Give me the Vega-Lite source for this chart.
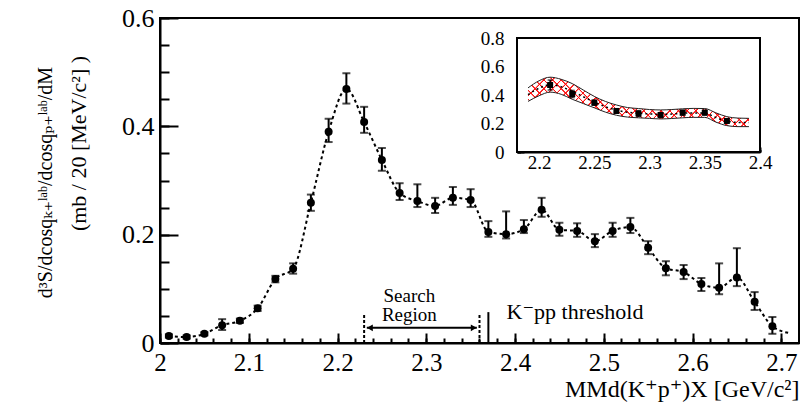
{
  "$schema": "https://vega.github.io/schema/vega-lite/v6.json",
  "width": 639,
  "height": 325,
  "autosize": {"type": "none"},
  "padding": {"left": 160, "top": 18, "right": 4, "bottom": 61},
  "background": "white",
  "config": {
    "view": {"stroke": "black", "strokeWidth": 2},
    "font": "Liberation Serif, Times New Roman, DejaVu Serif, serif",
    "axis": {
      "domainColor": "black", "domainWidth": 2, "tickColor": "black", "tickWidth": 2,
      "labelFont": "Liberation Serif, Times New Roman, DejaVu Serif, serif", "labelColor": "black",
      "titleFont": "Liberation Serif, Times New Roman, DejaVu Serif, serif",
      "titleColor": "black", "titleFontWeight": "normal", "grid": false, "labelFlush": false,
      "labelOverlap": false, "zindex": 1
    },
    "text": {"font": "Liberation Serif, Times New Roman, DejaVu Serif, serif", "color": "black"}
  },
  "datasets": {
    "pts": [
      {"m": 2.01, "v": 0.013, "lo": 0.010, "hi": 0.016},
      {"m": 2.03, "v": 0.011, "lo": 0.008, "hi": 0.014},
      {"m": 2.05, "v": 0.017, "lo": 0.014, "hi": 0.020},
      {"m": 2.07, "v": 0.033, "lo": 0.024, "hi": 0.044},
      {"m": 2.09, "v": 0.041, "lo": 0.037, "hi": 0.045},
      {"m": 2.11, "v": 0.064, "lo": 0.059, "hi": 0.069},
      {"m": 2.13, "v": 0.118, "lo": 0.112, "hi": 0.124},
      {"m": 2.15, "v": 0.137, "lo": 0.128, "hi": 0.147},
      {"m": 2.17, "v": 0.259, "lo": 0.244, "hi": 0.274},
      {"m": 2.19, "v": 0.390, "lo": 0.371, "hi": 0.414},
      {"m": 2.21, "v": 0.469, "lo": 0.442, "hi": 0.498},
      {"m": 2.23, "v": 0.408, "lo": 0.388, "hi": 0.436},
      {"m": 2.25, "v": 0.338, "lo": 0.318, "hi": 0.360},
      {"m": 2.27, "v": 0.277, "lo": 0.264, "hi": 0.295},
      {"m": 2.29, "v": 0.262, "lo": 0.251, "hi": 0.293},
      {"m": 2.31, "v": 0.253, "lo": 0.240, "hi": 0.268},
      {"m": 2.33, "v": 0.268, "lo": 0.255, "hi": 0.288},
      {"m": 2.35, "v": 0.264, "lo": 0.251, "hi": 0.284},
      {"m": 2.37, "v": 0.205, "lo": 0.196, "hi": 0.225},
      {"m": 2.39, "v": 0.201, "lo": 0.193, "hi": 0.243},
      {"m": 2.41, "v": 0.210, "lo": 0.203, "hi": 0.227},
      {"m": 2.43, "v": 0.246, "lo": 0.233, "hi": 0.268},
      {"m": 2.45, "v": 0.209, "lo": 0.198, "hi": 0.222},
      {"m": 2.47, "v": 0.207, "lo": 0.196, "hi": 0.221},
      {"m": 2.49, "v": 0.188, "lo": 0.177, "hi": 0.201},
      {"m": 2.51, "v": 0.207, "lo": 0.196, "hi": 0.222},
      {"m": 2.53, "v": 0.214, "lo": 0.203, "hi": 0.231},
      {"m": 2.55, "v": 0.176, "lo": 0.164, "hi": 0.188},
      {"m": 2.57, "v": 0.138, "lo": 0.125, "hi": 0.151},
      {"m": 2.59, "v": 0.131, "lo": 0.118, "hi": 0.144},
      {"m": 2.61, "v": 0.109, "lo": 0.096, "hi": 0.120},
      {"m": 2.63, "v": 0.102, "lo": 0.090, "hi": 0.147},
      {"m": 2.65, "v": 0.121, "lo": 0.105, "hi": 0.175},
      {"m": 2.67, "v": 0.076, "lo": 0.061, "hi": 0.094},
      {"m": 2.69, "v": 0.031, "lo": 0.017, "hi": 0.048}
    ],
    "curve": [
      {"m": 2.01, "v": 0.013}, {"m": 2.03, "v": 0.011}, {"m": 2.05, "v": 0.017},
      {"m": 2.07, "v": 0.033}, {"m": 2.09, "v": 0.041}, {"m": 2.11, "v": 0.064},
      {"m": 2.13, "v": 0.118}, {"m": 2.15, "v": 0.137}, {"m": 2.17, "v": 0.259},
      {"m": 2.19, "v": 0.390}, {"m": 2.21, "v": 0.469}, {"m": 2.23, "v": 0.408},
      {"m": 2.25, "v": 0.338}, {"m": 2.27, "v": 0.277}, {"m": 2.29, "v": 0.262},
      {"m": 2.31, "v": 0.253}, {"m": 2.33, "v": 0.268}, {"m": 2.35, "v": 0.264},
      {"m": 2.37, "v": 0.205}, {"m": 2.39, "v": 0.201}, {"m": 2.41, "v": 0.210},
      {"m": 2.43, "v": 0.246}, {"m": 2.45, "v": 0.209}, {"m": 2.47, "v": 0.207},
      {"m": 2.49, "v": 0.188}, {"m": 2.51, "v": 0.207}, {"m": 2.53, "v": 0.214},
      {"m": 2.55, "v": 0.176}, {"m": 2.57, "v": 0.138}, {"m": 2.59, "v": 0.131},
      {"m": 2.61, "v": 0.109}, {"m": 2.63, "v": 0.102}, {"m": 2.65, "v": 0.121},
      {"m": 2.67, "v": 0.076}, {"m": 2.69, "v": 0.031}, {"m": 2.71, "v": 0.018}
    ],
    "dashrules": [{"m": 2.23, "v": 0, "v2": 0.052}, {"m": 2.36, "v": 0, "v2": 0.052}],
    "threshold": [{"m": 2.37, "v": 0, "v2": 0.057}],
    "arrow": [{"m": 2.233, "m2": 2.357, "v": 0.028}],
    "heads": [{"m": 2.2365, "v": 0.028, "dir": "left"}, {"m": 2.3535, "v": 0.028, "dir": "right"}],
    "searchtext": [{"m": 2.281, "v": 0.087, "label": "Search"}, {"m": 2.281, "v": 0.052, "label": "Region"}],
    "thrtext": [{"m": 2.3905, "v": 0.058, "label": "K⁻pp threshold"}],
    "iframe": [{"m": 2.18, "m2": 2.40, "v": 0, "v2": 0.8}],
    "band": [
      {"m": 2.19, "lo": 0.355, "hi": 0.450, "c": 0.402},
      {"m": 2.20, "lo": 0.395, "hi": 0.500, "c": 0.448},
      {"m": 2.21, "lo": 0.420, "hi": 0.525, "c": 0.472},
      {"m": 2.22, "lo": 0.405, "hi": 0.510, "c": 0.458},
      {"m": 2.23, "lo": 0.370, "hi": 0.480, "c": 0.425},
      {"m": 2.24, "lo": 0.340, "hi": 0.435, "c": 0.388},
      {"m": 2.25, "lo": 0.310, "hi": 0.390, "c": 0.350},
      {"m": 2.26, "lo": 0.280, "hi": 0.355, "c": 0.318},
      {"m": 2.27, "lo": 0.258, "hi": 0.330, "c": 0.294},
      {"m": 2.28, "lo": 0.245, "hi": 0.312, "c": 0.279},
      {"m": 2.29, "lo": 0.240, "hi": 0.305, "c": 0.272},
      {"m": 2.30, "lo": 0.236, "hi": 0.298, "c": 0.267},
      {"m": 2.31, "lo": 0.232, "hi": 0.295, "c": 0.264},
      {"m": 2.32, "lo": 0.235, "hi": 0.298, "c": 0.266},
      {"m": 2.33, "lo": 0.240, "hi": 0.303, "c": 0.272},
      {"m": 2.34, "lo": 0.243, "hi": 0.306, "c": 0.274},
      {"m": 2.35, "lo": 0.243, "hi": 0.305, "c": 0.274},
      {"m": 2.36, "lo": 0.210, "hi": 0.275, "c": 0.242},
      {"m": 2.37, "lo": 0.185, "hi": 0.248, "c": 0.216},
      {"m": 2.38, "lo": 0.178, "hi": 0.238, "c": 0.208},
      {"m": 2.39, "lo": 0.178, "hi": 0.236, "c": 0.207}
    ],
    "ipts": [
      {"m": 2.21, "v": 0.470, "lo": 0.435, "hi": 0.505},
      {"m": 2.23, "v": 0.407, "lo": 0.382, "hi": 0.432},
      {"m": 2.25, "v": 0.346, "lo": 0.328, "hi": 0.364},
      {"m": 2.27, "v": 0.288, "lo": 0.273, "hi": 0.303},
      {"m": 2.29, "v": 0.270, "lo": 0.250, "hi": 0.290},
      {"m": 2.31, "v": 0.260, "lo": 0.245, "hi": 0.275},
      {"m": 2.33, "v": 0.276, "lo": 0.259, "hi": 0.293},
      {"m": 2.35, "v": 0.276, "lo": 0.259, "hi": 0.293},
      {"m": 2.37, "v": 0.218, "lo": 0.203, "hi": 0.233}
    ]
  },
  "resolve": {"scale": {"x": "independent", "y": "independent"}},
  "layer": [
    {
      "resolve": {"axis": {"x": "independent", "y": "independent"}},
      "layer": [
        {
          "data": {"name": "curve"},
          "mark": {"type": "line", "color": "black", "strokeWidth": 2, "strokeDash": [3, 3], "interpolate": "monotone"},
          "encoding": {
            "x": {"field": "m", "type": "quantitative", "scale": {"domain": [2.0, 2.72], "nice": false, "zero": false},
              "axis": {"orient": "bottom", "values": [2, 2.02, 2.04, 2.06, 2.08, 2.1, 2.12, 2.14, 2.16, 2.18, 2.2, 2.22, 2.24, 2.26, 2.28, 2.3, 2.32, 2.34, 2.36, 2.38, 2.4, 2.42, 2.44, 2.46, 2.48, 2.5, 2.52, 2.54, 2.56, 2.58, 2.6, 2.62, 2.64, 2.66, 2.68, 2.7],
                "tickSize": -5, "labels": false, "domain": false, "title": null}},
            "y": {"field": "v", "type": "quantitative", "scale": {"domain": [0, 0.6], "nice": false, "zero": false},
              "axis": {"orient": "left", "values": [0, 0.05, 0.1, 0.15, 0.2, 0.25, 0.3, 0.35, 0.4, 0.45, 0.5, 0.55, 0.6],
                "tickSize": -9, "labels": false, "domain": false,
                "title": "(mb / 20 [MeV/c²] )", "titleFontSize": 22, "titleAngle": 270, "titleX": -82, "titleY": 125,
                "titleAlign": "center", "titleBaseline": "middle"}}
          }
        },
        {
          "data": {"name": "pts"},
          "mark": {"type": "errorbar", "color": "black", "thickness": 2, "size": 8, "ticks": true},
          "encoding": {
            "x": {"field": "m", "type": "quantitative", "scale": {"domain": [2.0, 2.72], "nice": false, "zero": false}, "axis": null},
            "y": {"field": "lo", "type": "quantitative", "scale": {"domain": [0, 0.6], "nice": false, "zero": false}, "axis": null},
            "y2": {"field": "hi"}
          }
        },
        {
          "data": {"name": "pts"},
          "mark": {"type": "point", "shape": "circle", "filled": true, "color": "black", "opacity": 1, "size": 64},
          "encoding": {
            "x": {"field": "m", "type": "quantitative", "scale": {"domain": [2.0, 2.72], "nice": false, "zero": false},
              "axis": {"orient": "bottom", "values": [2, 2.1, 2.2, 2.3, 2.4, 2.5, 2.6, 2.7], "format": "~g",
                "tickSize": -10, "labelPadding": 17, "labelFontSize": 25, "labelFont": "Liberation Serif",
                "title": "MMd(K⁺p⁺)X [GeV/c²]", "titleFontSize": 24, "titleAlign": "right", "titleX": 639, "titleY": 46, "titleBaseline": "middle"}},
            "y": {"field": "v", "type": "quantitative", "scale": {"domain": [0, 0.6], "nice": false, "zero": false},
              "axis": {"orient": "left", "values": [0, 0.2, 0.4, 0.6], "format": "~g",
                "tickSize": -18, "labelPadding": 24, "labelFontSize": 26, "labelFont": "Liberation Serif",
                "title": "d³S/dcosqₖ₊ˡᵃᵇ/dcosqₚ₊ˡᵃᵇ/dM", "titleFontSize": 20, "titleAngle": 270, "titleX": -115, "titleY": 164,
                "titleAlign": "center", "titleBaseline": "middle"}}
          }
        },
        {
          "data": {"name": "dashrules"},
          "mark": {"type": "rule", "color": "black", "strokeWidth": 2, "strokeDash": [3, 2]},
          "encoding": {
            "x": {"field": "m", "type": "quantitative", "scale": {"domain": [2.0, 2.72], "nice": false, "zero": false}, "axis": null},
            "y": {"field": "v", "type": "quantitative", "scale": {"domain": [0, 0.6], "nice": false, "zero": false}, "axis": null},
            "y2": {"field": "v2"}
          }
        },
        {
          "data": {"name": "threshold"},
          "mark": {"type": "rule", "color": "black", "strokeWidth": 2},
          "encoding": {
            "x": {"field": "m", "type": "quantitative", "scale": {"domain": [2.0, 2.72], "nice": false, "zero": false}, "axis": null},
            "y": {"field": "v", "type": "quantitative", "scale": {"domain": [0, 0.6], "nice": false, "zero": false}, "axis": null},
            "y2": {"field": "v2"}
          }
        },
        {
          "data": {"name": "arrow"},
          "mark": {"type": "rule", "color": "black", "strokeWidth": 2},
          "encoding": {
            "x": {"field": "m", "type": "quantitative", "scale": {"domain": [2.0, 2.72], "nice": false, "zero": false}, "axis": null},
            "x2": {"field": "m2"},
            "y": {"field": "v", "type": "quantitative", "scale": {"domain": [0, 0.6], "nice": false, "zero": false}, "axis": null}
          }
        },
        {
          "data": {"name": "heads"},
          "mark": {"type": "point", "filled": true, "color": "black", "opacity": 1, "size": 45},
          "encoding": {
            "x": {"field": "m", "type": "quantitative", "scale": {"domain": [2.0, 2.72], "nice": false, "zero": false}, "axis": null},
            "y": {"field": "v", "type": "quantitative", "scale": {"domain": [0, 0.6], "nice": false, "zero": false}, "axis": null},
            "shape": {"field": "dir", "type": "nominal", "scale": {"domain": ["left", "right"], "range": ["triangle-left", "triangle-right"]}, "legend": null}
          }
        },
        {
          "data": {"name": "searchtext"},
          "mark": {"type": "text", "fontSize": 19, "align": "center", "baseline": "middle", "color": "black"},
          "encoding": {
            "x": {"field": "m", "type": "quantitative", "scale": {"domain": [2.0, 2.72], "nice": false, "zero": false}, "axis": null},
            "y": {"field": "v", "type": "quantitative", "scale": {"domain": [0, 0.6], "nice": false, "zero": false}, "axis": null},
            "text": {"field": "label"}
          }
        },
        {
          "data": {"name": "thrtext"},
          "mark": {"type": "text", "fontSize": 22, "align": "left", "baseline": "middle", "color": "black"},
          "encoding": {
            "x": {"field": "m", "type": "quantitative", "scale": {"domain": [2.0, 2.72], "nice": false, "zero": false}, "axis": null},
            "y": {"field": "v", "type": "quantitative", "scale": {"domain": [0, 0.6], "nice": false, "zero": false}, "axis": null},
            "text": {"field": "label"}
          }
        }
      ]
    },
    {
      "resolve": {"axis": {"x": "independent", "y": "independent"}},
      "layer": [
        {
          "data": {"name": "iframe"},
          "mark": {"type": "rect", "fill": "white", "stroke": "black", "strokeWidth": 2},
          "encoding": {
            "x": {"field": "m", "type": "quantitative", "scale": {"domain": [2.18, 2.40], "range": [357, 600], "nice": false, "zero": false},
              "axis": {"orient": "bottom", "offset": -191, "values": [2.2, 2.25, 2.3, 2.35, 2.4], "format": "~g",
                "tickSize": -5, "labelPadding": 6, "labelFontSize": 19, "labelFont": "Liberation Serif", "title": null}},
            "x2": {"field": "m2"},
            "y": {"field": "v", "type": "quantitative", "scale": {"domain": [0, 0.8], "range": [134, 20], "nice": false, "zero": false},
              "axis": {"orient": "left", "offset": -357, "values": [0, 0.2, 0.4, 0.6, 0.8], "format": "~g",
                "tickSize": -7, "labelPadding": 20, "labelFontSize": 19, "labelFont": "Liberation Serif", "title": null}},
            "y2": {"field": "v2"}
          }
        },
        {
          "data": {"name": "band"},
          "mark": {"type": "area", "opacity": 1, "interpolate": "monotone",
            "fill": {"gradient": "linear", "x1": 0, "y1": 0, "x2": 1.25, "y2": 0.275, "stops": [
              {"offset": 0.000, "color": "rgba(255,0,0,0)"}, {"offset": 0.002, "color": "#ff1010"}, {"offset": 0.005, "color": "#ff1010"}, {"offset": 0.007, "color": "rgba(255,0,0,0)"},
              {"offset": 0.030, "color": "rgba(255,0,0,0)"}, {"offset": 0.032, "color": "#ff1010"}, {"offset": 0.035, "color": "#ff1010"}, {"offset": 0.037, "color": "rgba(255,0,0,0)"},
              {"offset": 0.060, "color": "rgba(255,0,0,0)"}, {"offset": 0.062, "color": "#ff1010"}, {"offset": 0.065, "color": "#ff1010"}, {"offset": 0.067, "color": "rgba(255,0,0,0)"},
              {"offset": 0.090, "color": "rgba(255,0,0,0)"}, {"offset": 0.092, "color": "#ff1010"}, {"offset": 0.095, "color": "#ff1010"}, {"offset": 0.097, "color": "rgba(255,0,0,0)"},
              {"offset": 0.120, "color": "rgba(255,0,0,0)"}, {"offset": 0.122, "color": "#ff1010"}, {"offset": 0.125, "color": "#ff1010"}, {"offset": 0.127, "color": "rgba(255,0,0,0)"},
              {"offset": 0.150, "color": "rgba(255,0,0,0)"}, {"offset": 0.152, "color": "#ff1010"}, {"offset": 0.155, "color": "#ff1010"}, {"offset": 0.157, "color": "rgba(255,0,0,0)"},
              {"offset": 0.180, "color": "rgba(255,0,0,0)"}, {"offset": 0.182, "color": "#ff1010"}, {"offset": 0.185, "color": "#ff1010"}, {"offset": 0.187, "color": "rgba(255,0,0,0)"},
              {"offset": 0.210, "color": "rgba(255,0,0,0)"}, {"offset": 0.212, "color": "#ff1010"}, {"offset": 0.215, "color": "#ff1010"}, {"offset": 0.217, "color": "rgba(255,0,0,0)"},
              {"offset": 0.240, "color": "rgba(255,0,0,0)"}, {"offset": 0.242, "color": "#ff1010"}, {"offset": 0.245, "color": "#ff1010"}, {"offset": 0.247, "color": "rgba(255,0,0,0)"},
              {"offset": 0.270, "color": "rgba(255,0,0,0)"}, {"offset": 0.272, "color": "#ff1010"}, {"offset": 0.275, "color": "#ff1010"}, {"offset": 0.277, "color": "rgba(255,0,0,0)"},
              {"offset": 0.300, "color": "rgba(255,0,0,0)"}, {"offset": 0.302, "color": "#ff1010"}, {"offset": 0.305, "color": "#ff1010"}, {"offset": 0.307, "color": "rgba(255,0,0,0)"},
              {"offset": 0.330, "color": "rgba(255,0,0,0)"}, {"offset": 0.332, "color": "#ff1010"}, {"offset": 0.335, "color": "#ff1010"}, {"offset": 0.337, "color": "rgba(255,0,0,0)"},
              {"offset": 0.360, "color": "rgba(255,0,0,0)"}, {"offset": 0.362, "color": "#ff1010"}, {"offset": 0.365, "color": "#ff1010"}, {"offset": 0.367, "color": "rgba(255,0,0,0)"},
              {"offset": 0.390, "color": "rgba(255,0,0,0)"}, {"offset": 0.392, "color": "#ff1010"}, {"offset": 0.395, "color": "#ff1010"}, {"offset": 0.397, "color": "rgba(255,0,0,0)"},
              {"offset": 0.420, "color": "rgba(255,0,0,0)"}, {"offset": 0.422, "color": "#ff1010"}, {"offset": 0.425, "color": "#ff1010"}, {"offset": 0.427, "color": "rgba(255,0,0,0)"},
              {"offset": 0.450, "color": "rgba(255,0,0,0)"}, {"offset": 0.452, "color": "#ff1010"}, {"offset": 0.455, "color": "#ff1010"}, {"offset": 0.457, "color": "rgba(255,0,0,0)"},
              {"offset": 0.480, "color": "rgba(255,0,0,0)"}, {"offset": 0.482, "color": "#ff1010"}, {"offset": 0.485, "color": "#ff1010"}, {"offset": 0.487, "color": "rgba(255,0,0,0)"},
              {"offset": 0.510, "color": "rgba(255,0,0,0)"}, {"offset": 0.512, "color": "#ff1010"}, {"offset": 0.515, "color": "#ff1010"}, {"offset": 0.517, "color": "rgba(255,0,0,0)"},
              {"offset": 0.540, "color": "rgba(255,0,0,0)"}, {"offset": 0.542, "color": "#ff1010"}, {"offset": 0.545, "color": "#ff1010"}, {"offset": 0.547, "color": "rgba(255,0,0,0)"},
              {"offset": 0.570, "color": "rgba(255,0,0,0)"}, {"offset": 0.572, "color": "#ff1010"}, {"offset": 0.575, "color": "#ff1010"}, {"offset": 0.577, "color": "rgba(255,0,0,0)"},
              {"offset": 0.600, "color": "rgba(255,0,0,0)"}, {"offset": 0.602, "color": "#ff1010"}, {"offset": 0.605, "color": "#ff1010"}, {"offset": 0.607, "color": "rgba(255,0,0,0)"},
              {"offset": 0.630, "color": "rgba(255,0,0,0)"}, {"offset": 0.632, "color": "#ff1010"}, {"offset": 0.635, "color": "#ff1010"}, {"offset": 0.637, "color": "rgba(255,0,0,0)"},
              {"offset": 0.660, "color": "rgba(255,0,0,0)"}, {"offset": 0.662, "color": "#ff1010"}, {"offset": 0.665, "color": "#ff1010"}, {"offset": 0.667, "color": "rgba(255,0,0,0)"},
              {"offset": 0.690, "color": "rgba(255,0,0,0)"}, {"offset": 0.692, "color": "#ff1010"}, {"offset": 0.695, "color": "#ff1010"}, {"offset": 0.697, "color": "rgba(255,0,0,0)"},
              {"offset": 0.720, "color": "rgba(255,0,0,0)"}, {"offset": 0.722, "color": "#ff1010"}, {"offset": 0.725, "color": "#ff1010"}, {"offset": 0.727, "color": "rgba(255,0,0,0)"},
              {"offset": 0.750, "color": "rgba(255,0,0,0)"}, {"offset": 0.752, "color": "#ff1010"}, {"offset": 0.755, "color": "#ff1010"}, {"offset": 0.757, "color": "rgba(255,0,0,0)"},
              {"offset": 0.780, "color": "rgba(255,0,0,0)"}, {"offset": 0.782, "color": "#ff1010"}, {"offset": 0.785, "color": "#ff1010"}, {"offset": 0.787, "color": "rgba(255,0,0,0)"},
              {"offset": 0.810, "color": "rgba(255,0,0,0)"}, {"offset": 0.812, "color": "#ff1010"}, {"offset": 0.815, "color": "#ff1010"}, {"offset": 0.817, "color": "rgba(255,0,0,0)"},
              {"offset": 0.840, "color": "rgba(255,0,0,0)"}, {"offset": 0.842, "color": "#ff1010"}, {"offset": 0.845, "color": "#ff1010"}, {"offset": 0.847, "color": "rgba(255,0,0,0)"},
              {"offset": 0.870, "color": "rgba(255,0,0,0)"}, {"offset": 0.872, "color": "#ff1010"}, {"offset": 0.875, "color": "#ff1010"}, {"offset": 0.877, "color": "rgba(255,0,0,0)"},
              {"offset": 0.900, "color": "rgba(255,0,0,0)"}, {"offset": 0.902, "color": "#ff1010"}, {"offset": 0.905, "color": "#ff1010"}, {"offset": 0.907, "color": "rgba(255,0,0,0)"},
              {"offset": 1.000, "color": "rgba(255,0,0,0)"}
            ]}},
          "encoding": {
            "x": {"field": "m", "type": "quantitative", "scale": {"domain": [2.18, 2.40], "range": [357, 600], "nice": false, "zero": false},
              "axis": {"orient": "bottom", "offset": -191, "values": [2.18, 2.19, 2.2, 2.21, 2.22, 2.23, 2.24, 2.25, 2.26, 2.27, 2.28, 2.29, 2.3, 2.31, 2.32, 2.33, 2.34, 2.35, 2.36, 2.37, 2.38, 2.39, 2.4],
                "tickSize": -2.5, "labels": false, "domain": false, "title": null}},
            "y": {"field": "lo", "type": "quantitative", "scale": {"domain": [0, 0.8], "range": [134, 20], "nice": false, "zero": false},
              "axis": {"orient": "left", "offset": -357, "values": [0, 0.04, 0.08, 0.12, 0.16, 0.2, 0.24, 0.28, 0.32, 0.36, 0.4, 0.44, 0.48, 0.52, 0.56, 0.6, 0.64, 0.68, 0.72, 0.76, 0.8],
                "tickSize": -3.5, "labels": false, "domain": false, "title": null}},
            "y2": {"field": "hi"}
          }
        },
        {
          "data": {"name": "band"},
          "mark": {"type": "area", "opacity": 1, "interpolate": "monotone",
            "fill": {"gradient": "linear", "x1": 0, "y1": 1, "x2": 1.25, "y2": 0.725, "stops": [
              {"offset": 0.000, "color": "rgba(255,0,0,0)"}, {"offset": 0.002, "color": "#ff1010"}, {"offset": 0.005, "color": "#ff1010"}, {"offset": 0.007, "color": "rgba(255,0,0,0)"},
              {"offset": 0.030, "color": "rgba(255,0,0,0)"}, {"offset": 0.032, "color": "#ff1010"}, {"offset": 0.035, "color": "#ff1010"}, {"offset": 0.037, "color": "rgba(255,0,0,0)"},
              {"offset": 0.060, "color": "rgba(255,0,0,0)"}, {"offset": 0.062, "color": "#ff1010"}, {"offset": 0.065, "color": "#ff1010"}, {"offset": 0.067, "color": "rgba(255,0,0,0)"},
              {"offset": 0.090, "color": "rgba(255,0,0,0)"}, {"offset": 0.092, "color": "#ff1010"}, {"offset": 0.095, "color": "#ff1010"}, {"offset": 0.097, "color": "rgba(255,0,0,0)"},
              {"offset": 0.120, "color": "rgba(255,0,0,0)"}, {"offset": 0.122, "color": "#ff1010"}, {"offset": 0.125, "color": "#ff1010"}, {"offset": 0.127, "color": "rgba(255,0,0,0)"},
              {"offset": 0.150, "color": "rgba(255,0,0,0)"}, {"offset": 0.152, "color": "#ff1010"}, {"offset": 0.155, "color": "#ff1010"}, {"offset": 0.157, "color": "rgba(255,0,0,0)"},
              {"offset": 0.180, "color": "rgba(255,0,0,0)"}, {"offset": 0.182, "color": "#ff1010"}, {"offset": 0.185, "color": "#ff1010"}, {"offset": 0.187, "color": "rgba(255,0,0,0)"},
              {"offset": 0.210, "color": "rgba(255,0,0,0)"}, {"offset": 0.212, "color": "#ff1010"}, {"offset": 0.215, "color": "#ff1010"}, {"offset": 0.217, "color": "rgba(255,0,0,0)"},
              {"offset": 0.240, "color": "rgba(255,0,0,0)"}, {"offset": 0.242, "color": "#ff1010"}, {"offset": 0.245, "color": "#ff1010"}, {"offset": 0.247, "color": "rgba(255,0,0,0)"},
              {"offset": 0.270, "color": "rgba(255,0,0,0)"}, {"offset": 0.272, "color": "#ff1010"}, {"offset": 0.275, "color": "#ff1010"}, {"offset": 0.277, "color": "rgba(255,0,0,0)"},
              {"offset": 0.300, "color": "rgba(255,0,0,0)"}, {"offset": 0.302, "color": "#ff1010"}, {"offset": 0.305, "color": "#ff1010"}, {"offset": 0.307, "color": "rgba(255,0,0,0)"},
              {"offset": 0.330, "color": "rgba(255,0,0,0)"}, {"offset": 0.332, "color": "#ff1010"}, {"offset": 0.335, "color": "#ff1010"}, {"offset": 0.337, "color": "rgba(255,0,0,0)"},
              {"offset": 0.360, "color": "rgba(255,0,0,0)"}, {"offset": 0.362, "color": "#ff1010"}, {"offset": 0.365, "color": "#ff1010"}, {"offset": 0.367, "color": "rgba(255,0,0,0)"},
              {"offset": 0.390, "color": "rgba(255,0,0,0)"}, {"offset": 0.392, "color": "#ff1010"}, {"offset": 0.395, "color": "#ff1010"}, {"offset": 0.397, "color": "rgba(255,0,0,0)"},
              {"offset": 0.420, "color": "rgba(255,0,0,0)"}, {"offset": 0.422, "color": "#ff1010"}, {"offset": 0.425, "color": "#ff1010"}, {"offset": 0.427, "color": "rgba(255,0,0,0)"},
              {"offset": 0.450, "color": "rgba(255,0,0,0)"}, {"offset": 0.452, "color": "#ff1010"}, {"offset": 0.455, "color": "#ff1010"}, {"offset": 0.457, "color": "rgba(255,0,0,0)"},
              {"offset": 0.480, "color": "rgba(255,0,0,0)"}, {"offset": 0.482, "color": "#ff1010"}, {"offset": 0.485, "color": "#ff1010"}, {"offset": 0.487, "color": "rgba(255,0,0,0)"},
              {"offset": 0.510, "color": "rgba(255,0,0,0)"}, {"offset": 0.512, "color": "#ff1010"}, {"offset": 0.515, "color": "#ff1010"}, {"offset": 0.517, "color": "rgba(255,0,0,0)"},
              {"offset": 0.540, "color": "rgba(255,0,0,0)"}, {"offset": 0.542, "color": "#ff1010"}, {"offset": 0.545, "color": "#ff1010"}, {"offset": 0.547, "color": "rgba(255,0,0,0)"},
              {"offset": 0.570, "color": "rgba(255,0,0,0)"}, {"offset": 0.572, "color": "#ff1010"}, {"offset": 0.575, "color": "#ff1010"}, {"offset": 0.577, "color": "rgba(255,0,0,0)"},
              {"offset": 0.600, "color": "rgba(255,0,0,0)"}, {"offset": 0.602, "color": "#ff1010"}, {"offset": 0.605, "color": "#ff1010"}, {"offset": 0.607, "color": "rgba(255,0,0,0)"},
              {"offset": 0.630, "color": "rgba(255,0,0,0)"}, {"offset": 0.632, "color": "#ff1010"}, {"offset": 0.635, "color": "#ff1010"}, {"offset": 0.637, "color": "rgba(255,0,0,0)"},
              {"offset": 0.660, "color": "rgba(255,0,0,0)"}, {"offset": 0.662, "color": "#ff1010"}, {"offset": 0.665, "color": "#ff1010"}, {"offset": 0.667, "color": "rgba(255,0,0,0)"},
              {"offset": 0.690, "color": "rgba(255,0,0,0)"}, {"offset": 0.692, "color": "#ff1010"}, {"offset": 0.695, "color": "#ff1010"}, {"offset": 0.697, "color": "rgba(255,0,0,0)"},
              {"offset": 0.720, "color": "rgba(255,0,0,0)"}, {"offset": 0.722, "color": "#ff1010"}, {"offset": 0.725, "color": "#ff1010"}, {"offset": 0.727, "color": "rgba(255,0,0,0)"},
              {"offset": 0.750, "color": "rgba(255,0,0,0)"}, {"offset": 0.752, "color": "#ff1010"}, {"offset": 0.755, "color": "#ff1010"}, {"offset": 0.757, "color": "rgba(255,0,0,0)"},
              {"offset": 0.780, "color": "rgba(255,0,0,0)"}, {"offset": 0.782, "color": "#ff1010"}, {"offset": 0.785, "color": "#ff1010"}, {"offset": 0.787, "color": "rgba(255,0,0,0)"},
              {"offset": 0.810, "color": "rgba(255,0,0,0)"}, {"offset": 0.812, "color": "#ff1010"}, {"offset": 0.815, "color": "#ff1010"}, {"offset": 0.817, "color": "rgba(255,0,0,0)"},
              {"offset": 0.840, "color": "rgba(255,0,0,0)"}, {"offset": 0.842, "color": "#ff1010"}, {"offset": 0.845, "color": "#ff1010"}, {"offset": 0.847, "color": "rgba(255,0,0,0)"},
              {"offset": 0.870, "color": "rgba(255,0,0,0)"}, {"offset": 0.872, "color": "#ff1010"}, {"offset": 0.875, "color": "#ff1010"}, {"offset": 0.877, "color": "rgba(255,0,0,0)"},
              {"offset": 0.900, "color": "rgba(255,0,0,0)"}, {"offset": 0.902, "color": "#ff1010"}, {"offset": 0.905, "color": "#ff1010"}, {"offset": 0.907, "color": "rgba(255,0,0,0)"},
              {"offset": 1.000, "color": "rgba(255,0,0,0)"}
            ]}},
          "encoding": {
            "x": {"field": "m", "type": "quantitative", "scale": {"domain": [2.18, 2.40], "range": [357, 600], "nice": false, "zero": false}, "axis": null},
            "y": {"field": "lo", "type": "quantitative", "scale": {"domain": [0, 0.8], "range": [134, 20], "nice": false, "zero": false}, "axis": null},
            "y2": {"field": "hi"}
          }
        },
        {
          "data": {"name": "band"},
          "mark": {"type": "line", "color": "#222222", "strokeWidth": 1, "interpolate": "monotone"},
          "encoding": {
            "x": {"field": "m", "type": "quantitative", "scale": {"domain": [2.18, 2.40], "range": [357, 600], "nice": false, "zero": false}, "axis": null},
            "y": {"field": "hi", "type": "quantitative", "scale": {"domain": [0, 0.8], "range": [134, 20], "nice": false, "zero": false}, "axis": null}
          }
        },
        {
          "data": {"name": "band"},
          "mark": {"type": "line", "color": "#222222", "strokeWidth": 1, "interpolate": "monotone"},
          "encoding": {
            "x": {"field": "m", "type": "quantitative", "scale": {"domain": [2.18, 2.40], "range": [357, 600], "nice": false, "zero": false}, "axis": null},
            "y": {"field": "lo", "type": "quantitative", "scale": {"domain": [0, 0.8], "range": [134, 20], "nice": false, "zero": false}, "axis": null}
          }
        },
        {
          "data": {"name": "band"},
          "mark": {"type": "line", "color": "black", "strokeWidth": 1.5, "strokeDash": [2, 3], "interpolate": "monotone"},
          "encoding": {
            "x": {"field": "m", "type": "quantitative", "scale": {"domain": [2.18, 2.40], "range": [357, 600], "nice": false, "zero": false}, "axis": null},
            "y": {"field": "c", "type": "quantitative", "scale": {"domain": [0, 0.8], "range": [134, 20], "nice": false, "zero": false}, "axis": null}
          }
        },
        {
          "data": {"name": "ipts"},
          "mark": {"type": "errorbar", "color": "black", "thickness": 1.5, "size": 5, "ticks": true},
          "encoding": {
            "x": {"field": "m", "type": "quantitative", "scale": {"domain": [2.18, 2.40], "range": [357, 600], "nice": false, "zero": false}, "axis": null},
            "y": {"field": "lo", "type": "quantitative", "scale": {"domain": [0, 0.8], "range": [134, 20], "nice": false, "zero": false}, "axis": null},
            "y2": {"field": "hi"}
          }
        },
        {
          "data": {"name": "ipts"},
          "mark": {"type": "point", "shape": "square", "filled": true, "color": "black", "opacity": 1, "size": 36},
          "encoding": {
            "x": {"field": "m", "type": "quantitative", "scale": {"domain": [2.18, 2.40], "range": [357, 600], "nice": false, "zero": false}, "axis": null},
            "y": {"field": "v", "type": "quantitative", "scale": {"domain": [0, 0.8], "range": [134, 20], "nice": false, "zero": false}, "axis": null}
          }
        }
      ]
    }
  ]
}
